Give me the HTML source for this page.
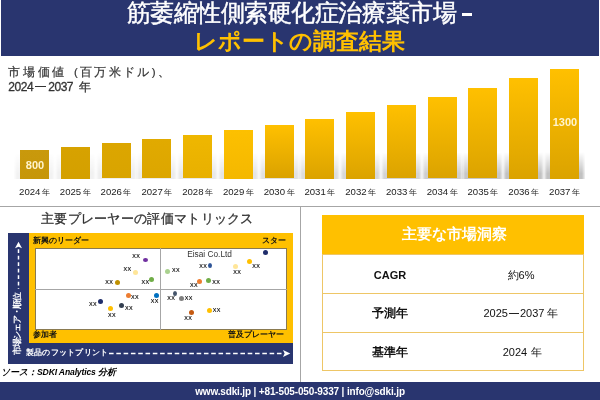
<!DOCTYPE html>
<html lang="ja">
<head>
<meta charset="utf-8">
<style>
*{margin:0;padding:0;box-sizing:border-box;}
html,body{width:600px;height:400px;overflow:hidden;background:#fff;}
body{position:relative;font-family:"Liberation Sans",sans-serif;color:#222;-webkit-font-smoothing:antialiased;}
.a{position:absolute;}
#hdr{left:1px;top:0;width:598px;height:56px;background:#29356f;}
#t1{left:126.5px;top:-0.5px;color:#fff;-webkit-text-stroke:0.45px #fff;font-size:24px;line-height:25px;letter-spacing:-0.45px;white-space:nowrap;}
#dash{left:462px;top:13px;width:10px;height:3px;background:#fff;}
#t2{left:-1px;top:28.7px;width:600px;text-align:center;color:#ffc000;font-weight:bold;font-size:23px;line-height:25px;white-space:nowrap;}
#sub1{left:8px;top:64.5px;font-size:11.5px;line-height:14px;color:#333;-webkit-text-stroke:0.2px #333;letter-spacing:2.75px;white-space:nowrap;}
#sub2{left:8.3px;top:79.5px;font-size:12px;line-height:14px;color:#333;-webkit-text-stroke:0.3px #333;letter-spacing:-0.45px;white-space:nowrap;}
.sh{position:absolute;width:41px;height:27px;background:linear-gradient(90deg,rgba(0,0,0,.05) 0,rgba(0,0,0,.24) 3px,rgba(0,0,0,.24) 38px,rgba(0,0,0,.05) 41px);-webkit-mask-image:linear-gradient(rgba(0,0,0,0),#000 80%);mask-image:linear-gradient(rgba(0,0,0,0),#000 80%);}
.bar{position:absolute;width:29px;}
.bv{position:absolute;width:30px;text-align:center;font-weight:bold;font-size:11px;line-height:12px;color:#fff4cc;}
.yr{position:absolute;top:187px;width:41px;text-align:center;font-size:9.6px;line-height:10px;color:#222;white-space:nowrap;}
.yr span{font-size:8px;margin-left:1.5px;}
.hl{left:0;top:206px;width:600px;height:1px;background:#a6a6a6;}
.vl{left:300px;top:206px;width:1px;height:176px;background:#a6a6a6;}
#mt{left:41px;top:211px;font-size:13px;line-height:16px;color:#333;-webkit-text-stroke:0.3px #333;white-space:nowrap;letter-spacing:0.3px;}
#mnav{left:8px;top:233px;width:284.5px;height:130.6px;background:#29356f;}
#myel{left:28.75px;top:233px;width:263.75px;height:110px;background:#ffc000;}
#min{left:34.5px;top:247.5px;width:252.5px;height:82.5px;background:#fff;border:1px solid #8a7a50;}
.mh{left:35px;top:289px;width:251.5px;height:1px;background:#a6a6a6;}
.mv{left:160px;top:248px;width:1px;height:81.5px;background:#a6a6a6;}
.ml{position:absolute;font-size:7.9px;font-weight:bold;color:#111;line-height:10px;white-space:nowrap;}
.d{position:absolute;width:5px;height:5px;border-radius:50%;}
.x{position:absolute;font-size:5.4px;line-height:8px;color:#111;-webkit-text-stroke:0.15px #111;letter-spacing:0.4px;}
#eisai{left:187.2px;top:249.6px;font-size:8.3px;line-height:9px;color:#333;letter-spacing:0;white-space:nowrap;}
#vt{left:17px;top:323.5px;width:0;height:0;}
#vt div{position:absolute;left:-35px;top:-5px;width:70px;transform:rotate(-90deg);color:#fff;font-size:8.5px;line-height:10px;font-weight:bold;letter-spacing:-1.25px;white-space:nowrap;text-align:center;}
#ht{left:25.8px;top:347.8px;letter-spacing:0.25px;color:#fff;font-size:8.2px;line-height:10px;font-weight:bold;white-space:nowrap;}
#tbl{left:321.5px;top:214.7px;width:262.5px;height:156.8px;border:1px solid #eec666;}
#th{left:321.5px;top:214.7px;width:262.5px;padding-left:3.5px;height:39.5px;background:#ffc000;color:#fff;font-size:14.8px;font-weight:bold;line-height:39.5px;text-align:center;}
.rl{position:absolute;left:321.5px;width:262.5px;height:1px;background:#eec666;}
.c1{position:absolute;left:322px;width:136px;text-align:center;font-weight:bold;font-size:11px;line-height:14px;color:#111;}
.c2{position:absolute;left:455px;width:132px;text-align:center;font-size:11px;line-height:14px;color:#111;}
#src{left:1px;top:367px;font-size:9px;line-height:11px;font-style:italic;font-weight:bold;color:#000;white-space:nowrap;}
#src span{font-size:8.6px;letter-spacing:-0.15px;}
#ftr{left:0;top:382px;width:600px;height:18px;background:#29356f;color:#fff;font-weight:bold;font-size:10px;line-height:19px;letter-spacing:-0.15px;text-align:center;}
</style>
</head>
<body>
<div id="w" style="position:absolute;left:0;top:0;width:600px;height:400px;will-change:transform;">
<div class="a" id="hdr"></div>
<div class="a" id="t1">筋萎縮性側索硬化症治療薬市場</div><div class="a" id="dash"></div>
<div class="a" id="t2">レポートの調査結果</div>
<div class="a" id="sub1">市場価値<span style="margin-left:7px;letter-spacing:2.3px">(百万米ドル)、</span></div>
<div class="a" id="sub2">2024<span style="display:inline-block;width:10.5px;height:1px;background:#333;vertical-align:4px;margin:0 2.5px 0 2px"></span>2037<span style="margin-left:6px">年</span></div>

<div class="sh" style="left:14.00px;top:151.50px;opacity:0.21"></div>
<div class="bar" style="left:20.00px;top:150.00px;height:28.50px;background:linear-gradient(#c9990c,#c69609)"></div>
<div class="yr" style="left:14.00px">2024<span>年</span></div>
<div class="sh" style="left:54.77px;top:151.50px;opacity:0.24"></div>
<div class="bar" style="left:60.77px;top:147.00px;height:31.50px;background:linear-gradient(#d7a200,#d4a000)"></div>
<div class="yr" style="left:54.77px">2025<span>年</span></div>
<div class="sh" style="left:95.54px;top:151.50px;opacity:0.29"></div>
<div class="bar" style="left:101.54px;top:142.70px;height:35.80px;background:linear-gradient(#dca600,#d9a400)"></div>
<div class="yr" style="left:95.54px">2026<span>年</span></div>
<div class="sh" style="left:136.31px;top:151.50px;opacity:0.33"></div>
<div class="bar" style="left:142.31px;top:138.70px;height:39.80px;background:linear-gradient(#e1aa00,#dca600)"></div>
<div class="yr" style="left:136.31px">2027<span>年</span></div>
<div class="sh" style="left:177.08px;top:151.50px;opacity:0.38"></div>
<div class="bar" style="left:183.08px;top:134.70px;height:43.80px;background:linear-gradient(#efb700,#e8b000)"></div>
<div class="yr" style="left:177.08px">2028<span>年</span></div>
<div class="sh" style="left:217.85px;top:151.50px;opacity:0.43"></div>
<div class="bar" style="left:223.85px;top:130.00px;height:48.50px;background:linear-gradient(#fdc000,#f4b800)"></div>
<div class="yr" style="left:217.85px">2029<span>年</span></div>
<div class="sh" style="left:258.62px;top:151.50px;opacity:0.49"></div>
<div class="bar" style="left:264.62px;top:124.70px;height:53.80px;background:linear-gradient(#ffc000,#daa200)"></div>
<div class="yr" style="left:258.62px">2030<span>年</span></div>
<div class="sh" style="left:299.38px;top:151.50px;opacity:0.56"></div>
<div class="bar" style="left:305.38px;top:119.00px;height:59.50px;background:linear-gradient(#ffc000,#dba300)"></div>
<div class="yr" style="left:299.38px">2031<span>年</span></div>
<div class="sh" style="left:340.15px;top:151.50px;opacity:0.64"></div>
<div class="bar" style="left:346.15px;top:112.00px;height:66.50px;background:linear-gradient(#ffc000,#dba300)"></div>
<div class="yr" style="left:340.15px">2032<span>年</span></div>
<div class="sh" style="left:380.92px;top:151.50px;opacity:0.72"></div>
<div class="bar" style="left:386.92px;top:104.70px;height:73.80px;background:linear-gradient(#ffc000,#dba300)"></div>
<div class="yr" style="left:380.92px">2033<span>年</span></div>
<div class="sh" style="left:421.69px;top:151.50px;opacity:0.81"></div>
<div class="bar" style="left:427.69px;top:96.70px;height:81.80px;background:linear-gradient(#ffc000,#dba300)"></div>
<div class="yr" style="left:421.69px">2034<span>年</span></div>
<div class="sh" style="left:462.46px;top:151.50px;opacity:0.92"></div>
<div class="bar" style="left:468.46px;top:87.70px;height:90.80px;background:linear-gradient(#ffc000,#dba300)"></div>
<div class="yr" style="left:462.46px">2035<span>年</span></div>
<div class="sh" style="left:503.23px;top:151.50px;opacity:1.00"></div>
<div class="bar" style="left:509.23px;top:77.50px;height:101.00px;background:linear-gradient(#ffc000,#dba300)"></div>
<div class="yr" style="left:503.23px">2036<span>年</span></div>
<div class="sh" style="left:544.00px;top:151.50px;opacity:1.00"></div>
<div class="bar" style="left:550.00px;top:68.75px;height:109.75px;background:linear-gradient(#ffc000,#dba300)"></div>
<div class="yr" style="left:544.00px">2037<span>年</span></div>
<div class="bv" style="left:20px;top:159px">800</div>
<div class="bv" style="left:550.00px;top:116px">1300</div>

<div class="a hl"></div>
<div class="a vl"></div>

<div class="a" id="mt">主要プレーヤーの評価マトリックス</div>
<div class="a" id="mnav"></div>
<div class="a" id="myel"></div>
<div class="a" id="min"></div>
<div class="a mh"></div>
<div class="a mv"></div>
<div class="ml" style="left:33px;top:235.5px">新興のリーダー</div>
<div class="ml" style="left:261.8px;top:235.5px">スター</div>
<div class="ml" style="left:33px;top:329.5px">参加者</div>
<div class="ml" style="left:227.5px;top:329.5px">普及プレーヤー</div>
<div class="a" id="eisai">Eisai Co.Ltd</div>
<div class="d" style="left:143.10px;top:258.00px;width:4.8px;height:4px;background:#7030a0"></div><div class="d" style="left:133.00px;top:269.50px;width:5px;height:5px;background:#ffe699"></div><div class="d" style="left:115.00px;top:279.70px;width:5px;height:5px;background:#bf9000"></div><div class="d" style="left:149.00px;top:277.00px;width:5px;height:5px;background:#70ad47"></div><div class="d" style="left:164.80px;top:269.10px;width:5px;height:5px;background:#a9d18e"></div><div class="d" style="left:208.00px;top:262.70px;width:4px;height:5px;background:#2f5597"></div><div class="d" style="left:233.00px;top:263.60px;width:5px;height:5px;background:#ffe699"></div><div class="d" style="left:197.20px;top:279.20px;width:5px;height:5px;background:#ed7d31"></div><div class="d" style="left:205.80px;top:278.00px;width:5px;height:5px;background:#70ad47"></div><div class="d" style="left:247.00px;top:258.90px;width:5px;height:5px;background:#ffc000"></div><div class="d" style="left:263.10px;top:250.00px;width:5px;height:5px;background:#1f2d6b"></div><div class="d" style="left:125.80px;top:293.00px;width:5px;height:5px;background:#ed7d31"></div><div class="d" style="left:154.00px;top:293.00px;width:5px;height:5px;background:#0070c0"></div><div class="d" style="left:98.00px;top:299.00px;width:5px;height:5px;background:#1f2d6b"></div><div class="d" style="left:119.00px;top:303.00px;width:5px;height:5px;background:#333f50"></div><div class="d" style="left:107.50px;top:306.00px;width:5px;height:5px;background:#ffc000"></div><div class="d" style="left:173.00px;top:290.70px;width:4px;height:5px;background:#44546a"></div><div class="d" style="left:178.90px;top:296.00px;width:5px;height:5px;background:#7f7f7f"></div><div class="d" style="left:189.00px;top:309.80px;width:5px;height:5px;background:#c55a11"></div><div class="d" style="left:207.00px;top:307.70px;width:5px;height:5px;background:#ffc000"></div>
<div class="x" style="left:132.20px;top:252.00px">XX</div><div class="x" style="left:123.50px;top:264.70px">XX</div><div class="x" style="left:105.20px;top:277.70px">XX</div><div class="x" style="left:141.50px;top:277.70px">XX</div><div class="x" style="left:172.00px;top:266.20px">XX</div><div class="x" style="left:199.30px;top:262.00px">XX</div><div class="x" style="left:233.20px;top:268.20px">XX</div><div class="x" style="left:190.00px;top:281.20px">XX</div><div class="x" style="left:212.20px;top:277.70px">XX</div><div class="x" style="left:252.20px;top:262.20px">XX</div><div class="x" style="left:131.00px;top:293.00px">XX</div><div class="x" style="left:150.80px;top:297.00px">XX</div><div class="x" style="left:89.00px;top:300.20px">XX</div><div class="x" style="left:125.00px;top:304.20px">XX</div><div class="x" style="left:108.00px;top:311.00px">XX</div><div class="x" style="left:167.20px;top:294.20px">XX</div><div class="x" style="left:184.70px;top:294.20px">XX</div><div class="x" style="left:184.30px;top:313.70px">XX</div><div class="x" style="left:212.80px;top:305.70px">XX</div>
<div class="a" id="vt"><div>市場シェア・順位</div></div>
<div class="a" id="ht">製品のフットプリント</div>
<svg class="a" style="left:0;top:230px" width="300" height="140" viewBox="0 230 300 140">
 <line x1="18.5" y1="249.2" x2="18.5" y2="289" stroke="#fff" stroke-width="1.5" stroke-dasharray="3.75 2.75"/>
 <path d="M18.5 241.7 L22 248.3 L18.5 246.8 L15 248.3 Z" fill="#fff"/>
 <line x1="109" y1="353.5" x2="283.5" y2="353.5" stroke="#fff" stroke-width="1.7" stroke-dasharray="4.6 2.7"/>
 <path d="M290.3 353.5 L283 350 L284.6 353.5 L283 357 Z" fill="#fff"/>
</svg>

<div class="a" id="tbl"></div>
<div class="a" id="th">主要な市場洞察</div>
<div class="rl" style="top:254.2px"></div>
<div class="rl" style="top:292.8px"></div>
<div class="rl" style="top:332.4px"></div>
<div class="c1" style="top:267.5px">CAGR</div>
<div class="c2" style="top:267.5px">約6%</div>
<div class="c1" style="top:305.5px;font-size:11.8px">予測年</div>
<div class="c2" style="top:306px">2025<span style="display:inline-block;width:10px;height:1px;background:#222;vertical-align:3.5px;margin:0 1px"></span>2037 年</div>
<div class="c1" style="top:344.5px;font-size:11.8px">基準年</div>
<div class="c2" style="top:345px;left:456.5px">2024<span style="margin-left:4px">年</span></div>

<div class="a" id="src">ソース：<span>SDKI Analytics </span>分析</div>
<div class="a" id="ftr">www.sdki.jp | +81-505-050-9337 | info@sdki.jp</div>
</div>
</body>
</html>
